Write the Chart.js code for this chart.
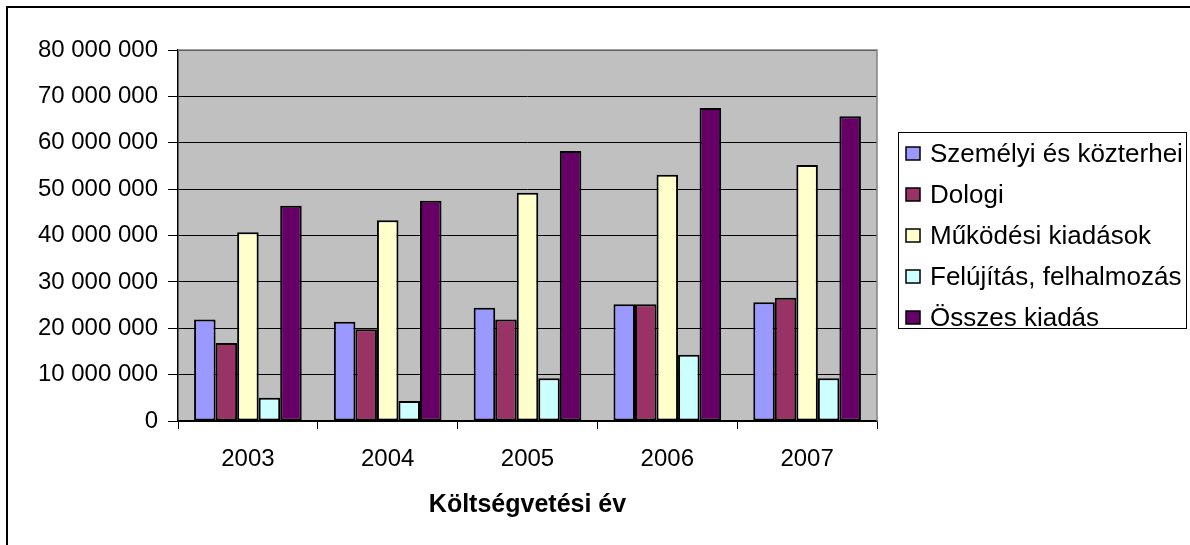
<!DOCTYPE html>
<html>
<head>
<meta charset="utf-8">
<script src="https://cdn.jsdelivr.net/npm/chart.js@4/dist/chart.umd.min.js"></script>
<style>
  html, body { margin: 0; padding: 0; background: #fff; }
  #wrap { width: 1190px; height: 545px; position: relative; }
</style>
</head>
<body>
<div id="wrap"><canvas id="ctx"></canvas></div>
<script>
const years = ['2003', '2004', '2005', '2006', '2007']
const szemelyi = [21900000, 21400000, 24400000, 25200000, 25600000]
const dologi = [16800000, 19800000, 21900000, 25200000, 26600000]
const mukodesi = [40700000, 43300000, 49200000, 53100000, 55200000]
const felujitas = [5000000, 4300000, 9200000, 14300000, 9200000]
const osszes = [46400000, 47500000, 58200000, 67500000, 65700000]
const seriesNames = ['Személyi és közterhei', 'Dologi', 'Működési kiadások', 'Felújítás, felhalmozás', 'Összes kiadás']
const seriesColors = ['#9999FF', '#993366', '#FFFFCC', '#CCFFFF', '#660066']
const yTicksMax = 80000000
const yTicksStep = 10000000
const xTitle = 'Költségvetési év'

const FONT = "'Liberation Sans', Arial, sans-serif"
const $chart = document.getElementById('ctx')

const fmt = v => String(v).replace(/\B(?=(\d{3})+(?!\d))/g, '\u00a0')

const frame = {
  id: 'frame',
  beforeDraw: (chart) => {
    const {ctx, chartArea} = chart
    ctx.save()
    ctx.fillStyle = '#fff'
    ctx.fillRect(0, 0, chart.width, chart.height)
    ctx.strokeStyle = '#000'
    ctx.lineWidth = 2
    ctx.strokeRect(7, 7, chart.width + 20, chart.height + 20)
    ctx.fillStyle = '#C0C0C0'
    ctx.fillRect(chartArea.left, chartArea.top, chartArea.right - chartArea.left, chartArea.bottom - chartArea.top)
    ctx.restore()
  },
  afterDatasetsDraw: (chart) => {
    const {ctx, chartArea} = chart
    ctx.save()
    ctx.strokeStyle = '#808080'
    ctx.lineWidth = 1.5
    ctx.beginPath()
    ctx.moveTo(chartArea.left, chartArea.top)
    ctx.lineTo(chartArea.right, chartArea.top)
    ctx.lineTo(chartArea.right, chartArea.bottom)
    ctx.stroke()
    ctx.restore()
  }
}

// legend box on the right, like the Excel one
const boxLegend = {
  id: 'boxLegend',
  afterDraw: (chart) => {
    const {ctx} = chart
    ctx.save()
    ctx.fillStyle = '#fff'
    ctx.fillRect(898, 132, 289, 197)
    ctx.strokeStyle = '#000'
    ctx.lineWidth = 1
    ctx.strokeRect(898.5, 132.5, 288, 196)
    ctx.font = '26px ' + FONT
    ctx.textBaseline = 'middle'
    chart.data.datasets.forEach((ds, i) => {
      const y = 154 + i * 41
      ctx.fillStyle = ds.backgroundColor
      ctx.fillRect(906, y - 7, 14, 13)
      ctx.lineWidth = 1.5
      ctx.strokeRect(906, y - 7, 14, 13)
      ctx.fillStyle = '#000'
      ctx.fillText(ds.label, 930, y + 1)
    })
    ctx.restore()
  }
}

const allValues = [szemelyi, dologi, mukodesi, felujitas, osszes]

const data = {
  labels: years,
  datasets: allValues.map((vals, i) => ({
    label: seriesNames[i],
    data: vals,
    backgroundColor: seriesColors[i],
    borderColor: '#000',
    borderWidth: 2,
    borderSkipped: false,
    categoryPercentage: 0.77,
    barPercentage: 1
  }))
}

const options = {
  type: 'bar',
  data,
  options: {
    responsive: true,
    maintainAspectRatio: false,
    animation: false,
    layout: {padding: {left: 0, top: 50, right: 313, bottom: 0}},
    plugins: {
      legend: {display: false},
      tooltip: {enabled: false}
    },
    scales: {
      x: {
        grid: {drawOnChartArea: false, color: '#000', tickLength: 8, offset: true},
        border: {color: '#000', width: 1.5},
        ticks: {color: '#000', padding: 16, font: {family: FONT, size: 24}},
        title: {
          display: true,
          text: xTitle,
          color: '#000',
          font: {family: FONT, size: 25, weight: 'bold'},
          padding: {top: 0, bottom: 25}
        },
        afterFit: (scale) => { scale.height = 124 }
      },
      y: {
        min: 0,
        max: yTicksMax,
        grid: {color: '#000', tickLength: 10, lineWidth: 1},
        border: {color: '#000', width: 1.5},
        ticks: {
          stepSize: yTicksStep,
          color: '#000',
          padding: 10,
          font: {family: FONT, size: 24},
          callback: v => fmt(v)
        },
        afterFit: (scale) => { scale.width = 178 }
      }
    }
  },
  plugins: [frame, boxLegend]
}

const chart = new Chart($chart, options)
</script>
</body>
</html>
